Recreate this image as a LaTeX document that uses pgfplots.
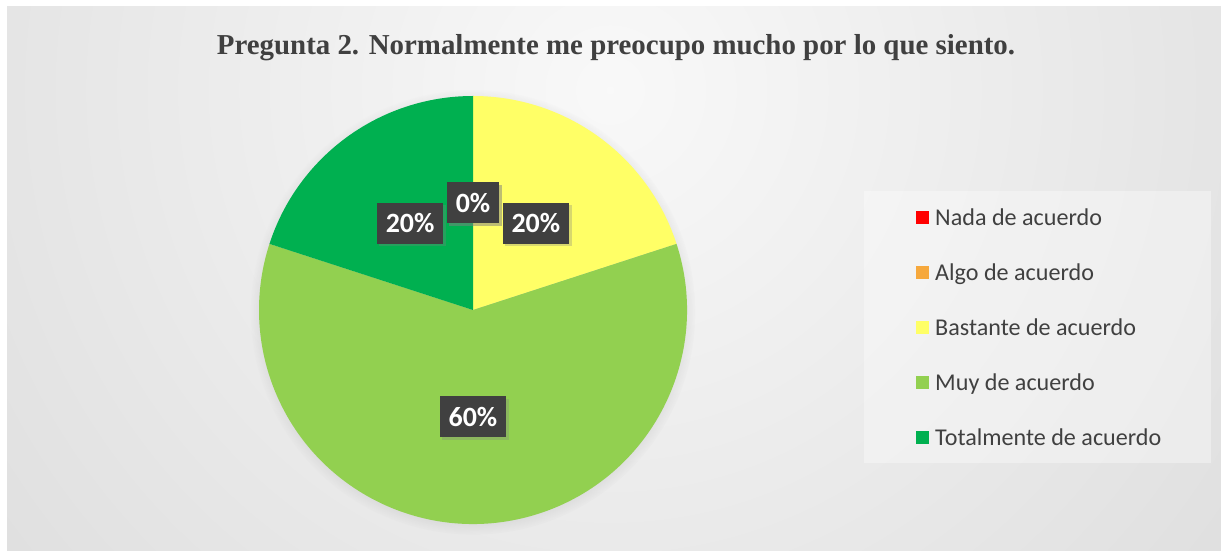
\documentclass[border=0pt]{standalone}
\usepackage{pgfplots}
\pgfplotsset{compat=1.18}
\usepackage{pgfplotstable}
\usepackage{fontspec}
\setmainfont{Carlito}
\newfontfamily\titlefont{Liberation Serif}
\usetikzlibrary{shadows}
\definecolor{cNada}{HTML}{FF0000}
\definecolor{cAlgo}{HTML}{F6A83C}
\definecolor{cBast}{HTML}{FFFF66}
\definecolor{cMuy}{HTML}{92D050}
\definecolor{cTot}{HTML}{00B050}
\definecolor{txt}{HTML}{404040}
\definecolor{lbl}{HTML}{404040}
\definecolor{bgin}{gray}{0.975}
\definecolor{bgout}{gray}{0.77}
\pgfdeclareradialshading{bgshade}{\pgfpointorigin}{color(0bp)=(bgin); color(50bp)=(bgout)}

\pgfplotstableread{
idx value
0 0
1 0
2 20
3 60
4 20
}\piedata

\newcommand\getval[2]{\pgfplotstablegetelem{#1}{value}\of\piedata\xdef#2{\pgfplotsretval}}
\getval{0}\vA
\getval{1}\vB
\getval{2}\vC
\getval{3}\vD
\getval{4}\vE
\pgfmathsetmacro\aA{90}
\pgfmathsetmacro\aB{\aA-3.6*\vA}
\pgfmathsetmacro\aC{\aB-3.6*\vB}
\pgfmathsetmacro\aD{\aC-3.6*\vC}
\pgfmathsetmacro\aE{\aD-3.6*\vD}
\pgfmathsetmacro\aF{\aE-3.6*\vE}

\newcommand\slice[3]{%
  \fill[#3] (axis cs:0,0) -- ++(#1:214bp) arc[start angle=#1, end angle=#2, radius=214bp] -- cycle;}
\newcommand\slicelabel[3]{%
  \node[lab] at (axis cs:{0.5*cos((#1+#2)/2)},{0.5*sin((#1+#2)/2)}) {#3\%};}

\begin{document}
\begin{tikzpicture}[
  lab/.style={fill=lbl, text=white, font=\fontsize{28}{28}\selectfont\bfseries,
    inner xsep=9bp, inner ysep=0pt, minimum height=41bp,
    drop shadow={shadow xshift=2.5bp, shadow yshift=-2.5bp, opacity=0.3}}]
\useasboundingbox (0,0) rectangle (1221bp,551bp);
\fill[white] (0,0) rectangle (1221bp,551bp);
\begin{scope}
\clip (7bp,0) rectangle (1221bp,544bp);
\shade[shading=bgshade] (610bp,461bp) circle (800bp);
\end{scope}
\node[text=txt, font=\titlefont\fontsize{29}{29}\selectfont\bfseries, anchor=base] at (616bp,496bp)
  {Pregunta 2. Normalmente me preocupo mucho por lo que siento.};
\fill[white, opacity=0.35] (864bp,88bp) rectangle (1211bp,360bp);
\path[circular drop shadow={shadow xshift=0bp, shadow yshift=-2bp, shadow scale=1.04, opacity=0.35}]
  (473bp,241bp) circle (214bp);
\begin{axis}[
  at={(473bp,241bp)}, anchor=origin,
  scale only axis, width=428bp, height=428bp,
  xmin=-1, xmax=1, ymin=-1, ymax=1,
  hide axis, clip=false,
  legend image code/.code={\fill[#1, draw=none] (0bp,-4bp) rectangle (13bp,9bp);},
  legend cell align=left,
  legend style={at={(1.4136,0.7687)}, anchor=north west, draw=none, fill=none,
    font=\fontsize{24.2}{24.2}\selectfont, text=txt,
    inner xsep=52bp, inner ysep=14bp, row sep=34bp,
    nodes={inner sep=0pt, text height=16bp, text depth=5bp},
    /tikz/every odd column/.append style={column sep=6bp}},
]
\slice{\aA}{\aB}{cNada}
\slice{\aB}{\aC}{cAlgo}
\slice{\aC}{\aD}{cBast}
\slice{\aD}{\aE}{cMuy}
\slice{\aE}{\aF}{cTot}
\slicelabel{\aA}{\aB}{\vA}
\slicelabel{\aB}{\aC}{\vB}
\slicelabel{\aC}{\aD}{\vC}
\slicelabel{\aD}{\aE}{\vD}
\slicelabel{\aE}{\aF}{\vE}
\addlegendimage{fill=cNada}\addlegendentry{Nada de acuerdo}
\addlegendimage{fill=cAlgo}\addlegendentry{Algo de acuerdo}
\addlegendimage{fill=cBast}\addlegendentry{Bastante de acuerdo}
\addlegendimage{fill=cMuy}\addlegendentry{Muy de acuerdo}
\addlegendimage{fill=cTot}\addlegendentry{Totalmente de acuerdo}
\end{axis}
\end{tikzpicture}
\end{document}
